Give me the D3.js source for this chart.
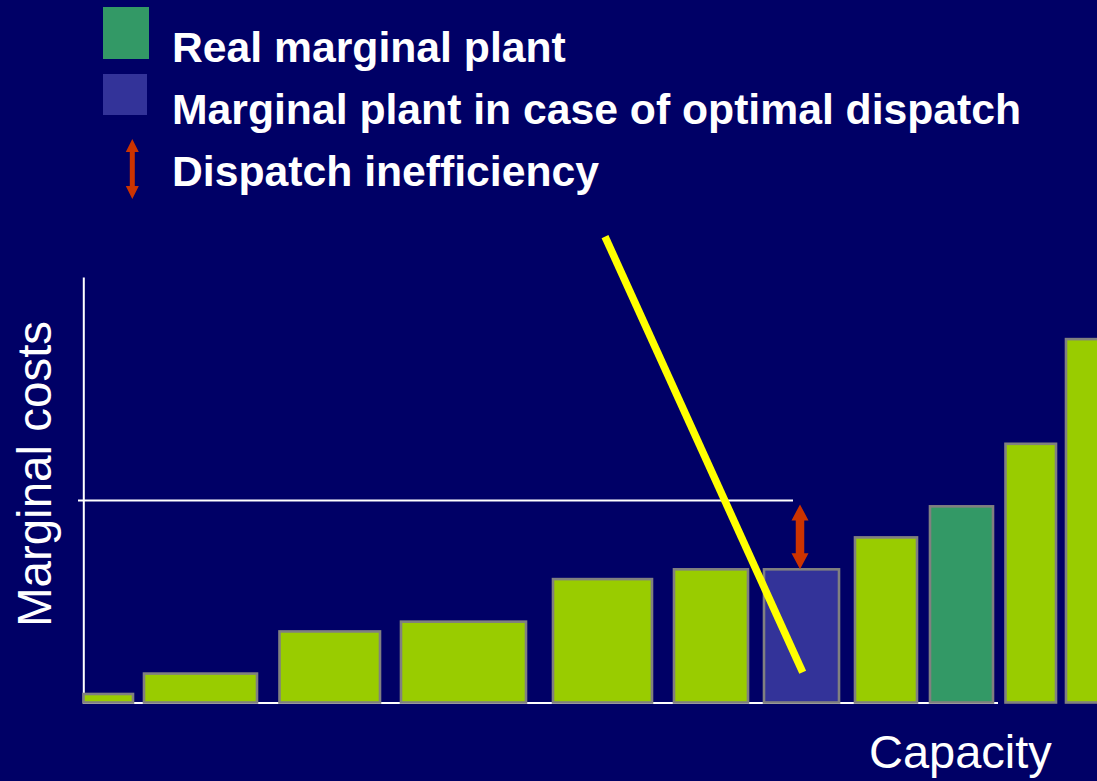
<!DOCTYPE html>
<html>
<head>
<meta charset="utf-8">
<script src="https://cdn.jsdelivr.net/npm/d3@7"></script>
<style>
  html, body { margin: 0; padding: 0; background: #000066; }
  svg { display: block; }
</style>
</head>
<body>
<svg></svg>
<script>
// merit order: plants sorted by marginal cost
var plants = ["P1","P2","P3","P4","P5","P6","P7","P8","P9","P10","P11"];
var capStart = [0.05, 6.1, 19.65, 31.8, 47.0, 59.1, 68.1, 77.2, 84.7, 92.25, 98.3];
var capEnd   = [5.0, 17.4, 29.7, 44.3, 56.9, 66.5, 75.6, 83.4, 91.0, 97.3, 103];
var costs    = [2.0, 6.8, 16.7, 19.0, 29.0, 31.3, 31.3, 38.8, 46.1, 60.8, 85.4];
var kind     = ["n","n","n","n","n","n","opt","n","real","n","n"];
var priceLevel = 47.5;
var pointer = [[52.2, 109.5], [71.97, 7.1]];   // yellow annotation (capacity, cost)
var legendLabels = ["Real marginal plant", "Marginal plant in case of optimal dispatch", "Dispatch inefficiency"];

var width = 1097, height = 781;
var colors = {n: "#99cc00", real: "#339966", opt: "#333399"};
var font = "'Liberation Sans', Arial, sans-serif";

var svg = d3.select("svg")
  .attr("width", width)
  .attr("height", height);

svg.append("rect").attr("width", width).attr("height", height).attr("fill", "#000066");

var x = d3.scaleLinear().domain([0, 101.4]).range([83, 1097]);
var y = d3.scaleLinear().domain([0, 100]).range([702.5, 277]);

// baseline
svg.append("line")
  .attr("x1", x(0)).attr("x2", x(91.5))
  .attr("y1", y(0) + 0.5).attr("y2", y(0) + 0.5)
  .attr("stroke", "#ffffff").attr("stroke-width", 2);

// y axis (no ticks)
svg.append("g")
  .attr("transform", "translate(" + (x(0) + 0.3) + ",0)")
  .call(d3.axisLeft(y).ticks(0).tickSizeOuter(0))
  .select(".domain")
  .attr("stroke", "#ffffff").attr("stroke-width", 2);

// price line
svg.append("line")
  .attr("x1", x(-0.5)).attr("x2", x(71))
  .attr("y1", y(priceLevel)).attr("y2", y(priceLevel))
  .attr("stroke", "#ffffff").attr("stroke-width", 2);

// bars
svg.selectAll("rect.bar")
  .data(plants)
  .enter()
  .append("rect")
  .attr("class", "bar")
  .attr("x", function(d, i){ return x(capStart[i]); })
  .attr("y", function(d, i){ return y(costs[i]); })
  .attr("width", function(d, i){ return x(capEnd[i]) - x(capStart[i]); })
  .attr("height", function(d, i){ return y(0) - y(costs[i]); })
  .attr("fill", function(d, i){ return colors[kind[i]]; })
  .attr("stroke", "#808080")
  .attr("stroke-width", 2.6);

// double arrow helper
function dblArrow(g, cx, y1, y2, shaft, headW, headL) {
  var p = [
    [cx, y1], [cx + headW/2, y1 + headL], [cx + shaft/2, y1 + headL],
    [cx + shaft/2, y2 - headL], [cx + headW/2, y2 - headL], [cx, y2],
    [cx - headW/2, y2 - headL], [cx - shaft/2, y2 - headL],
    [cx - shaft/2, y1 + headL], [cx - headW/2, y1 + headL]
  ];
  g.append("path").attr("d", d3.line()(p) + "Z").attr("fill", "#cc3300");
}

// inefficiency arrow between optimal plant and price
var iOpt = kind.indexOf("opt");
dblArrow(svg, (x(capStart[iOpt]) + x(capEnd[iOpt])) / 2 - 1.5, y(priceLevel) + 4, y(costs[iOpt]), 8.5, 17, 16);

// yellow pointer
svg.append("line")
  .attr("x1", x(pointer[0][0])).attr("y1", y(pointer[0][1]))
  .attr("x2", x(pointer[1][0])).attr("y2", y(pointer[1][1]))
  .attr("stroke", "#ffff00").attr("stroke-width", 7.5);

// legend
svg.append("rect").attr("x", 103).attr("y", 7).attr("width", 46).attr("height", 52).attr("fill", colors.real);
svg.append("rect").attr("x", 103).attr("y", 74).attr("width", 44).attr("height", 41).attr("fill", colors.opt);
dblArrow(svg, 132.3, 139, 199, 5, 13, 13);

svg.selectAll("text.leg")
  .data(legendLabels)
  .enter()
  .append("text")
  .attr("class", "leg")
  .attr("x", 172)
  .attr("y", function(d, i){ return 62 + i * 62; })
  .attr("fill", "#ffffff")
  .attr("font-family", font)
  .attr("font-weight", "bold")
  .attr("font-size", 42.7)
  .text(function(d){ return d; });

// axis titles
svg.append("text")
  .attr("transform", "translate(51,474) rotate(-90)")
  .attr("text-anchor", "middle")
  .attr("fill", "#ffffff")
  .attr("font-family", font)
  .attr("font-size", 47.5)
  .text("Marginal costs");

svg.append("text")
  .attr("x", 869)
  .attr("y", 768)
  .attr("fill", "#ffffff")
  .attr("font-family", font)
  .attr("font-size", 47)
  .text("Capacity");
</script>
</body>
</html>
